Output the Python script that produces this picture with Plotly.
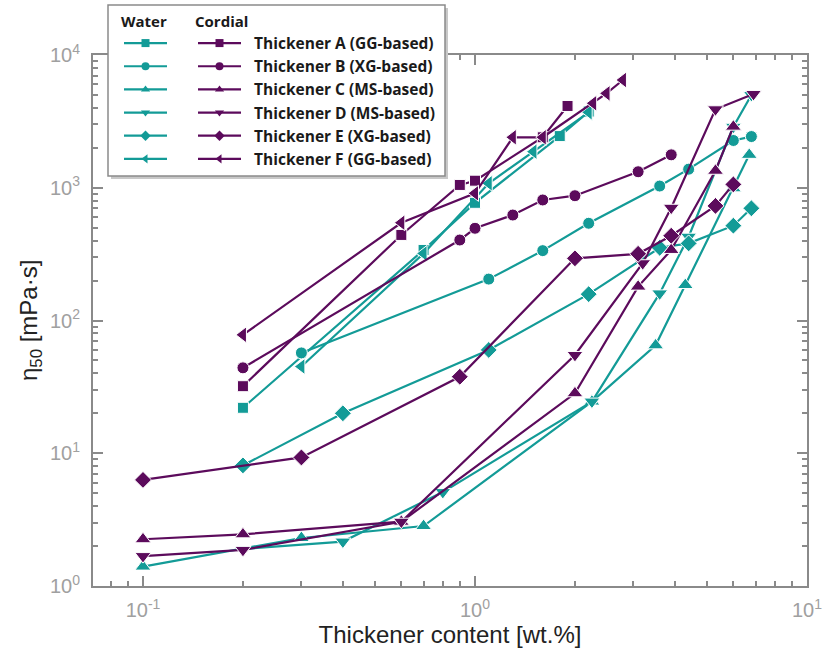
import numpy as np
import plotly.graph_objects as go

# ---------------- data ----------------
labels = ["Thickener A (GG-based)", "Thickener B (XG-based)", "Thickener C (MS-based)",
          "Thickener D (MS-based)", "Thickener E (XG-based)", "Thickener F (GG-based)"]
symbols = ["square", "circle", "triangle-up", "triangle-down", "diamond", "triangle-left"]
marker_sizes = [11, 12, 14, 14, 13, 14]

water_A_x = [0.2, 0.7, 1.0, 1.8, 2.2]
water_A_y = [22, 340, 770, 2450, 3750]
water_B_x = [0.3, 1.1, 1.6, 2.2, 3.6, 4.4, 6.0, 6.8]
water_B_y = [57, 205, 336, 540, 1030, 1380, 2270, 2430]
water_C_x = [0.1, 0.3, 0.7, 2.25, 3.5, 4.3, 6.0, 6.7]
water_C_y = [1.4, 2.3, 2.83, 24.5, 65, 185, 990, 1770]
water_D_x = [0.2, 0.4, 0.8, 2.25, 3.6, 4.4, 6.0, 6.8]
water_D_y = [1.9, 2.16, 5.1, 24.5, 160, 428, 2880, 5000]
water_E_x = [0.2, 0.4, 1.1, 2.2, 3.6, 4.4, 6.0, 6.8]
water_E_y = [8.1, 20, 60, 158, 353, 381, 518, 700]
water_F_x = [0.3, 0.7, 1.1, 1.5, 2.2]
water_F_y = [45, 320, 1080, 1870, 3700]

cordial_A_x = [0.2, 0.6, 0.9, 1.0, 1.6, 1.9]
cordial_A_y = [32, 441, 1050, 1130, 2400, 4130]
cordial_B_x = [0.2, 0.9, 1.0, 1.3, 1.6, 2.0, 3.1, 3.9]
cordial_B_y = [44, 404, 495, 623, 809, 871, 1320, 1770]
cordial_C_x = [0.1, 0.2, 0.6, 2.0, 3.1, 3.9, 5.3, 6.0]
cordial_C_y = [2.25, 2.45, 3.05, 28.3, 180, 340, 1343, 2885]
cordial_D_x = [0.1, 0.2, 0.6, 2.0, 3.2, 3.9, 5.3, 6.9]
cordial_D_y = [1.68, 1.87, 3.05, 55, 270, 707, 3900, 5090]
cordial_E_x = [0.1, 0.3, 0.9, 2.0, 3.1, 3.9, 5.3, 6.0]
cordial_E_y = [6.3, 9.3, 37.7, 294, 318, 435, 730, 1060]
cordial_F_x = [0.2, 0.6, 1.0, 1.3, 1.6, 2.27, 2.49, 2.79]
cordial_F_y = [78, 545, 908, 2400, 2400, 4330, 5140, 6480]

water = [(water_A_x, water_A_y), (water_B_x, water_B_y), (water_C_x, water_C_y),
         (water_D_x, water_D_y), (water_E_x, water_E_y), (water_F_x, water_F_y)]
cordial = [(cordial_A_x, cordial_A_y), (cordial_B_x, cordial_B_y), (cordial_C_x, cordial_C_y),
           (cordial_D_x, cordial_D_y), (cordial_E_x, cordial_E_y), (cordial_F_x, cordial_F_y)]

x_range = [0.0707, 10]
y_range = [1, 10000]
x_tickvals = [0.1, 1, 10]
x_ticktext = ["10<sup>-1</sup>", "10<sup>0</sup>", "10<sup>1</sup>"]
y_tickvals = [1, 10, 100, 1000, 10000]
y_ticktext = ["10<sup>0</sup>", "10<sup>1</sup>", "10<sup>2</sup>", "10<sup>3</sup>", "10<sup>4</sup>"]
minor_x = [0.08, 0.09] + [k / 10 for k in range(2, 10)] + list(range(2, 10))
minor_y = [m * 10 ** e for e in range(0, 4) for m in range(2, 10)]
x_title = "Thickener content [wt.%]"
y_title = "η<sub>50</sub> [mPa·s]"

TEAL = "#139b97"
PURPLE = "#5c0b5c"
AXC = "#8a8a8a"

# ---------------- figure ----------------
fig = go.Figure()

for (xs, ys), sym, ms in zip(water, symbols, marker_sizes):
    fig.add_trace(go.Scatter(x=xs, y=ys, mode="lines+markers", showlegend=False,
                             line=dict(color=TEAL, width=2.2),
                             marker=dict(symbol=sym, size=ms, color=TEAL,
                                         line=dict(color="white", width=1))))
for (xs, ys), sym, ms in zip(cordial, symbols, marker_sizes):
    fig.add_trace(go.Scatter(x=xs, y=ys, mode="lines+markers", showlegend=False,
                             line=dict(color=PURPLE, width=2.2),
                             marker=dict(symbol=sym, size=ms, color=PURPLE,
                                         line=dict(color="white", width=1))))

# legend entries (small markers, like the reference)
for lab, sym in zip(labels, symbols):
    fig.add_trace(go.Scatter(x=[None], y=[None], mode="lines+markers", name=" ",
                             legend="legend2",
                             line=dict(color=TEAL, width=2.2),
                             marker=dict(symbol=sym, size=8, color=TEAL)))
for lab, sym in zip(labels, symbols):
    fig.add_trace(go.Scatter(x=[None], y=[None], mode="lines+markers",
                             name="\u00a0\u00a0<b>" + lab + "</b>",
                             legend="legend",
                             line=dict(color=PURPLE, width=2.2),
                             marker=dict(symbol=sym, size=8, color=PURPLE)))

# invisible trace on the overlay axes so that their minor ticks are drawn
fig.add_trace(go.Scatter(x=[None], y=[None], xaxis="x2", yaxis="y2", showlegend=False,
                         hoverinfo="skip"))

# plot-area geometry in pixels
FW, FH = 825, 669
L, R, T, B = 93, 807, 55, 586
W, H = R - L, B - T
def px(xp):
    return (xp - L) / W
def py(yp):
    return (B - yp) / H
def cx(xp):
    return xp / FW
def cy(yp):
    return 1 - yp / FH

leg_font = dict(family="Open Sans", size=15.5, color="#1a1a1a")
title_font = dict(family="Open Sans", size=15, color="#1a1a1a")
fig.update_layout(
    width=FW, height=FH,
    margin=dict(l=L, r=FW - R, t=T, b=FH - B, autoexpand=False),
    paper_bgcolor="white", plot_bgcolor="white",
    legend=dict(xref="container", yref="container", x=cx(193), y=cy(7),
                xanchor="left", yanchor="top",
                bgcolor="rgba(0,0,0,0)", borderwidth=0, itemwidth=43,
                font=leg_font, tracegroupgap=0,
                title=dict(text="<b>Cordial</b>", font=title_font)),
    legend2=dict(xref="container", yref="container", x=cx(119), y=cy(7),
                 xanchor="left", yanchor="top",
                 bgcolor="rgba(0,0,0,0)", borderwidth=0, itemwidth=43,
                 font=leg_font, tracegroupgap=0,
                 title=dict(text="<b>Water</b>", font=title_font)),
    shapes=[
        dict(type="rect", xref="paper", yref="paper", layer="above",
             x0=px(111), x1=px(448), y0=py(8), y1=py(179),
             fillcolor="#c8c8c8", line=dict(width=0)),
        dict(type="rect", xref="paper", yref="paper", layer="above",
             x0=px(108), x1=px(445), y0=py(5), y1=py(176),
             fillcolor="white", line=dict(color=AXC, width=1.5)),
    ],
    annotations=[
        dict(text=y_title, xref="paper", yref="paper", x=px(30), y=py(320),
             xanchor="center", yanchor="middle", textangle=-90, showarrow=False,
             font=dict(family="Liberation Sans", size=24, color="#222222")),
    ],
)

axis_common = dict(
    type="log", showgrid=False, zeroline=False,
    showline=True, linecolor=AXC, linewidth=2, mirror="ticks",
    ticks="inside", tickwidth=1.5, tickcolor=AXC,
)
xr = [np.log10(x_range[0]), np.log10(x_range[1])]
yr = [np.log10(y_range[0]), np.log10(y_range[1])]
fig.update_layout(
    xaxis=dict(**axis_common, range=xr, ticklen=10, tickmode="array", automargin=True,
               tickvals=x_tickvals, ticktext=x_ticktext, ticklabelstandoff=5,
               tickfont=dict(family="Liberation Sans", size=20, color="#a0a0a0"),
               title=dict(text=x_title, standoff=0,
                          font=dict(family="Liberation Sans", size=24, color="#222222"))),
    yaxis=dict(**axis_common, range=yr, ticklen=10, tickmode="array", automargin=True,
               tickvals=y_tickvals, ticktext=y_ticktext, ticklabelstandoff=7,
               tickfont=dict(family="Liberation Sans", size=20, color="#a0a0a0")),
    xaxis2=dict(**axis_common, range=xr, overlaying="x", anchor="y", side="bottom",
                automargin=False,
                ticklen=5, tickmode="array", tickvals=minor_x, showticklabels=False),
    yaxis2=dict(**axis_common, range=yr, overlaying="y", anchor="x", side="left",
                automargin=False,
                ticklen=5, tickmode="array", tickvals=minor_y, showticklabels=False),
)

fig.write_html("out.html")
